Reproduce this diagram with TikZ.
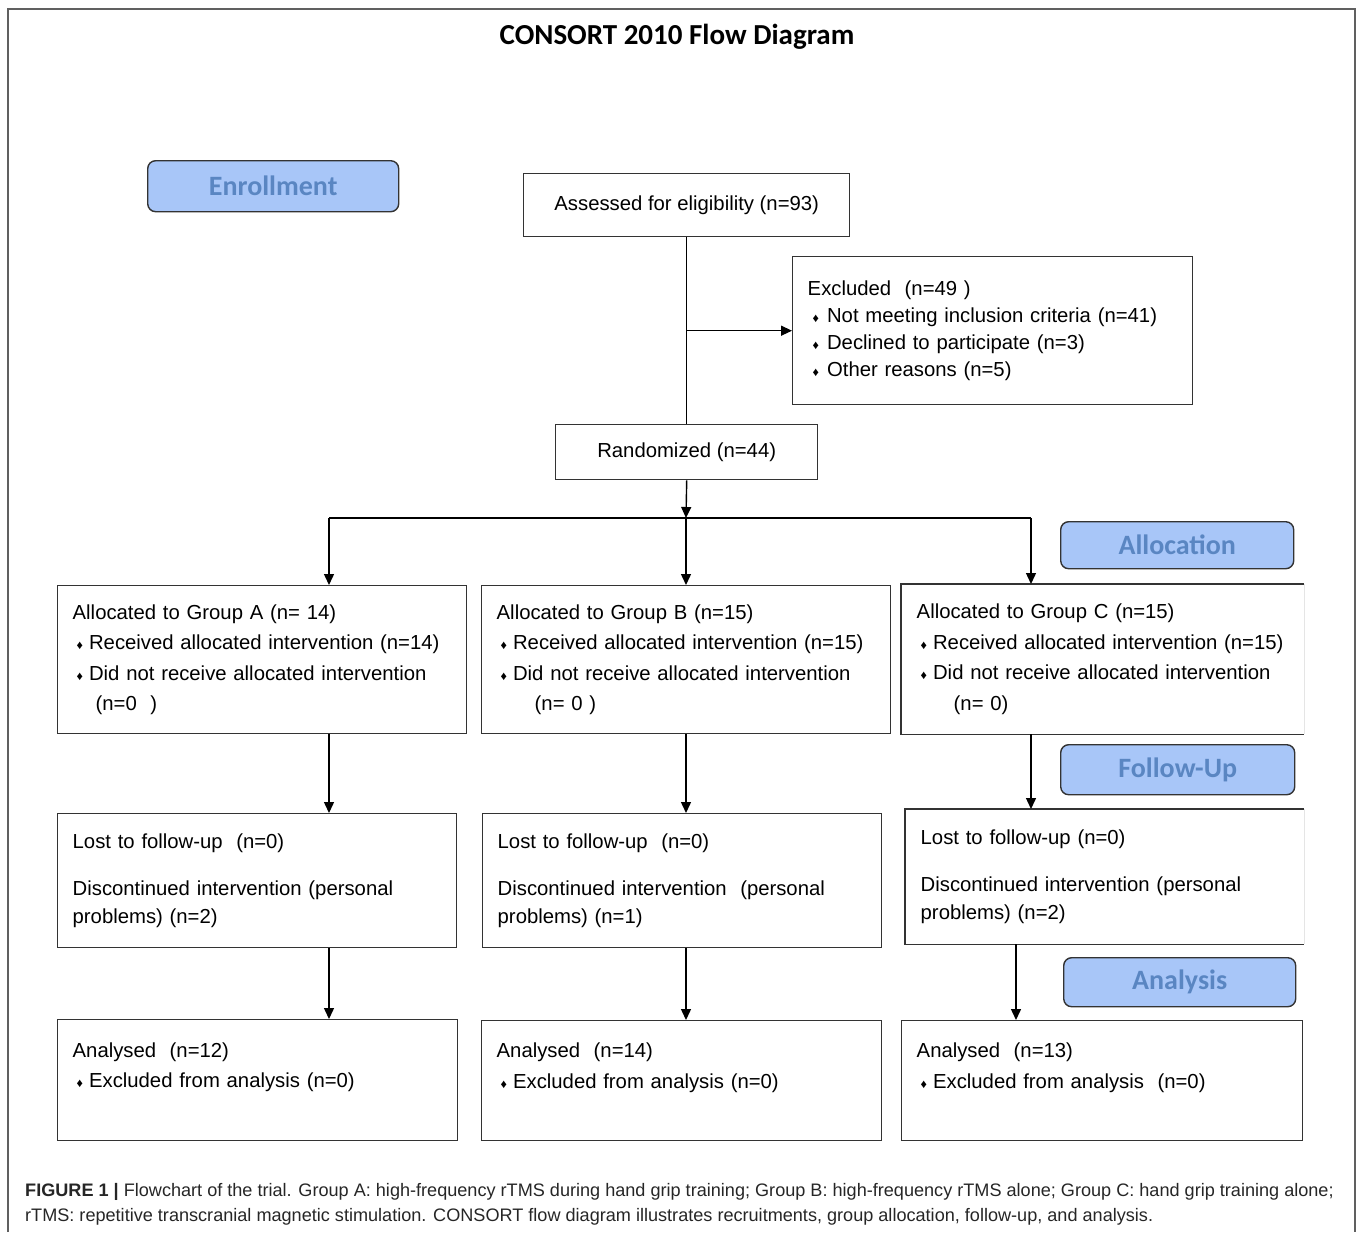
\documentclass[tikz,border=0pt]{standalone}
\usepackage{fontspec}
\setmainfont{Liberation Sans}
\newfontfamily\labelfont{Carlito}
\usepackage{tikz}
\usetikzlibrary{arrows.meta,positioning}
\definecolor{labfill}{HTML}{A8C6F8}
\definecolor{labtext}{HTML}{5A86C2}
\definecolor{boxline}{HTML}{333333}
\definecolor{framegray}{HTML}{606060}
\newcommand{\bul}{\hspace*{4pt}{\fontsize{12.5}{12}\selectfont ♦}\hspace{6pt}}

\begin{document}
\begin{tikzpicture}[x=1pt,y=-1pt,
    flow/.style={draw=boxline, line width=1.4pt, anchor=north west, inner xsep=15pt, inner ysep=0pt, font=\fontsize{20.3}{30.5}\selectfont},
    lab/.style={draw=boxline, line width=1.4pt, rounded corners=8pt, fill=labfill, text=labtext, anchor=north west, font=\labelfont\bfseries\fontsize{28}{28}\selectfont},
    arr/.style={-{Triangle[length=11pt,width=10pt]}, line width=1.4pt},
    link/.style={line width=1.4pt}]
    \useasboundingbox (0,0) rectangle (1357,1232);

    % outer frame and title
    \draw[framegray, line width=1.5pt] (8,1232) -- (8,9) -- (1355,9) -- (1355,1232);
    \node[font=\labelfont\bfseries\fontsize{29}{29}\selectfont] (title) at (677,37) {CONSORT 2010 Flow Diagram};

    % stage labels
    \node[lab, minimum width=251pt, minimum height=51pt] (enrol) at (147,160) {Enrollment};
    \node[lab, minimum width=233pt, minimum height=47pt] (alloc) at (1060,521) {Allocation};
    \node[lab, minimum width=234pt, minimum height=50pt] (fuplab) at (1060,744) {Follow-Up};
    \node[lab, minimum width=232pt, minimum height=49pt] (anlab) at (1063,957) {Analysis};

    % enrollment
    \node[flow, minimum width=326pt, minimum height=63pt] (assess) at (523,173) {Assessed for eligibility (n=93)};
    \node[flow, minimum width=400pt, minimum height=148pt, text width=370pt, align=left,
        font=\fontsize{20.3}{27}\selectfont] (excl) at (792,256)
        {Excluded~ (n=49 )\\ \hspace*{1pt}\bul\hspace{2pt}Not meeting inclusion criteria (n=41)\\ \hspace*{1pt}\bul\hspace{2pt}Declined to participate (n=3)\\ \hspace*{1pt}\bul\hspace{2pt}Other reasons (n=5)};
    \node[flow, minimum width=262pt, minimum height=55pt] (rand) at (555,424) {Randomized (n=44)};

    % allocation
    \node[flow, minimum width=409pt, minimum height=148pt, text width=379pt, align=left] (grpA) at (57,585)
        {Allocated to Group A (n= 14)\\ \bul Received allocated intervention (n=14)\\ \bul Did not receive allocated intervention\\ \hspace*{23pt}(n=0~ )};
    \node[flow, minimum width=409pt, minimum height=148pt, text width=379pt, align=left] (grpB) at (481,585)
        {Allocated to Group B (n=15)\\ \bul Received allocated intervention (n=15)\\ \bul Did not receive allocated intervention\\ \hspace*{38pt}(n= 0 )};
    \node[flow, draw=none, minimum width=402pt, minimum height=149pt, text width=372pt, align=left] (grpC) at (901,584)
        {Allocated to Group C (n=15)\\ \bul Received allocated intervention (n=15)\\ \bul Did not receive allocated intervention\\ \hspace*{37pt}(n= 0)};

    % follow-up
    \node[flow, minimum width=399pt, minimum height=134pt, text width=369pt, align=left,
        font=\fontsize{20.3}{28}\selectfont] (fupA) at (57,813)
        {Lost to follow-up~ (n=0)\\[19pt] Discontinued intervention (personal\\ problems) (n=2)};
    \node[flow, minimum width=399pt, minimum height=134pt, text width=369pt, align=left,
        font=\fontsize{20.3}{28}\selectfont] (fupB) at (482,813)
        {Lost to follow-up~ (n=0)\\[19pt] Discontinued intervention~ (personal\\ problems) (n=1)};
    \node[flow, draw=none, minimum width=398pt, minimum height=134pt, text width=368pt, align=left,
        font=\fontsize{20.3}{28}\selectfont] (fupC) at (905,809)
        {Lost to follow-up (n=0)\\[19pt] Discontinued intervention (personal\\ problems) (n=2)};

    % open right sides of the group C boxes
    \draw[link, boxline] (grpC.north east) -- (grpC.north west) -- (grpC.south west) -- (grpC.south east);
    \draw[gray!20, line width=0.6pt] (grpC.north east) -- (grpC.south east);
    \draw[link, boxline] (fupC.north east) -- (fupC.north west) -- (fupC.south west) -- (fupC.south east);
    \draw[gray!20, line width=0.6pt] (fupC.north east) -- (fupC.south east);

    % analysis
    \node[flow, minimum width=400pt, minimum height=121pt, text width=370pt, align=left] (anA) at (57,1019)
        {Analysed~ (n=12)\\ \bul Excluded from analysis (n=0)\\ \mbox{}};
    \node[flow, minimum width=400pt, minimum height=120pt, text width=370pt, align=left] (anB) at (481,1020)
        {Analysed~ (n=14)\\ \bul Excluded from analysis (n=0)\\ \mbox{}};
    \node[flow, minimum width=401pt, minimum height=120pt, text width=371pt, align=left] (anC) at (901,1020)
        {Analysed~ (n=13)\\ \bul Excluded from analysis~ (n=0)\\ \mbox{}};

    % connectors
    \draw[link] (assess.south) -- (rand.north);
    \draw[arr] (assess.south |- excl.west) -- (excl.west);
    \coordinate (split) at (686,518);
    \coordinate (toA) at (329,518);
    \coordinate (toC) at (1031,518);
    \coordinate (colC) at (1016,943);
    \draw[arr] (rand.south) -- (split);
    \draw[link] (toA) -- (toC);
    \draw[arr] (toA) -- (toA |- grpA.north);
    \draw[arr] (split) -- (split |- grpB.north);
    \draw[arr] (toC) -- (toC |- grpC.north);
    \draw[arr] (grpA.south -| toA) -- (fupA.north -| toA);
    \draw[arr] (grpB.south -| split) -- (fupB.north -| split);
    \draw[arr] (grpC.south -| toC) -- (fupC.north -| toC);
    \draw[arr] (fupA.south -| toA) -- (anA.north -| toA);
    \draw[arr] (fupB.south -| split) -- (anB.north -| split);
    \draw[arr] (fupC.south -| colC) -- (anC.north -| colC);

    % caption
    \node[anchor=north west, align=left, inner sep=0pt, text=black!85, font=\fontsize{18.1}{25}\selectfont] (caption) at (25,1183)
        {\textbf{FIGURE 1 |} Flowchart of the trial. Group A: high-frequency rTMS during hand grip training; Group B: high-frequency rTMS alone; Group C: hand grip training alone;\\
        rTMS: repetitive transcranial magnetic stimulation. CONSORT flow diagram illustrates recruitments, group allocation, follow-up, and analysis.};
\end{tikzpicture}
\end{document}
